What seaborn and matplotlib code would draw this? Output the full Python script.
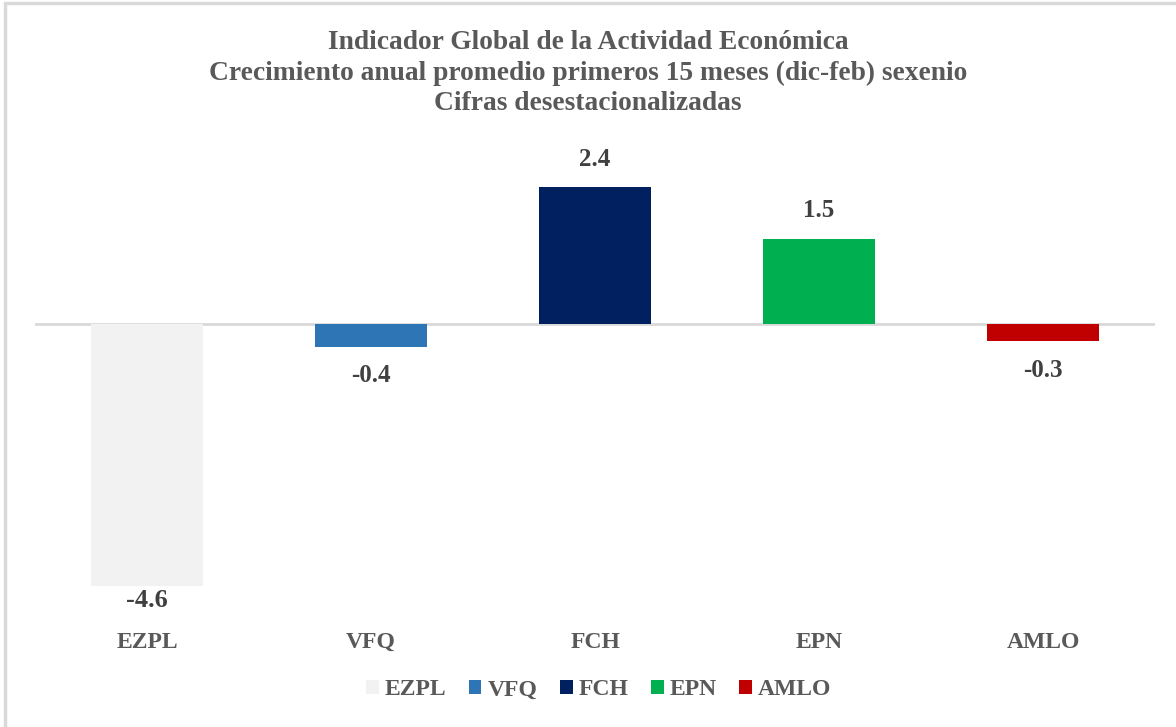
import numpy as np
import pandas as pd
import matplotlib.pyplot as plt
from matplotlib.lines import Line2D
from matplotlib.patches import Patch
import seaborn as sns

categories = ["EZPL", "VFQ", "FCH", "EPN", "AMLO"]
values = [-4.6, -0.4, 2.4, 1.5, -0.3]
colors = ["#f2f2f2", "#2e75b6", "#002060", "#00b050", "#c00000"]
title_lines = [
    "Indicador Global de la Actividad Económica",
    "Crecimiento anual promedio primeros 15 meses (dic-feb) sexenio",
    "Cifras desestacionalizadas",
]

sns.set_theme(style="white")
plt.rcParams["font.family"] = ["Liberation Serif", "DejaVu Serif"]

df = pd.DataFrame({"sexenio": categories, "valor": values})

fig = plt.figure(figsize=(11.76, 7.27), dpi=100)
ax = fig.add_axes([0.0298, 0.1623, 0.9524, 0.6272])

sns.barplot(data=df, x="sexenio", y="valor", hue="sexenio", palette=colors,
            width=0.5, legend=False, ax=ax, saturation=1, linewidth=0)

ax.set_ylim(-5, 3)
ax.set_xlim(-0.5, 4.5)
ax.axhline(0, color="#d9d9d9", lw=2, zorder=0)
for s in ax.spines.values():
    s.set_visible(False)
ax.set_yticks([])
ax.set_xlabel("")
ax.set_ylabel("")
ax.tick_params(axis="x", length=0, pad=0)
ax.set_xticks(range(len(categories)))
ax.set_xticklabels([])

# category labels below the plot area
for i, c in enumerate(categories):
    ax.annotate(c, (i, -5), xytext=(0, -24), textcoords="offset points",
                ha="center", va="center", fontsize=17, fontweight="bold",
                color="#595959")

# value labels (Excel pulls the lowest one back inside the plot area)
for i, v in enumerate(values):
    off = 20 if v > 0 else -21
    if v < -4:
        off = -10
    ax.annotate(f"{v:.1f}", (i, v), xytext=(0, off), textcoords="offset points",
                ha="center", va="center", fontsize=18 if i else 19,
                fontweight="bold", color="#404040")

fig.text(0.5, 0.8996, "\n".join(title_lines), ha="center", va="center",
         fontsize=19.8, fontweight="bold", color="#595959", linespacing=1.27)

handles = [Patch(facecolor=c, edgecolor="none") for c in colors]
fig.legend(handles, categories, loc="center", bbox_to_anchor=(0.509, 0.051),
           ncol=5, frameon=False, handlelength=0.55, handleheight=0.55,
           handletextpad=0.25, columnspacing=0.95,
           prop={"size": 17, "weight": "bold"}, labelcolor="#595959")

# light border at top and left of the chart area
fig.add_artist(Line2D([0.0043, 1.0], [0.9952, 0.9952], color="#d9d9d9", lw=2.5,
                      transform=fig.transFigure))
fig.add_artist(Line2D([0.0043, 0.0043], [0.0, 0.9952], color="#d9d9d9", lw=2.5,
                      transform=fig.transFigure))

fig.savefig("out.png", dpi=100)
